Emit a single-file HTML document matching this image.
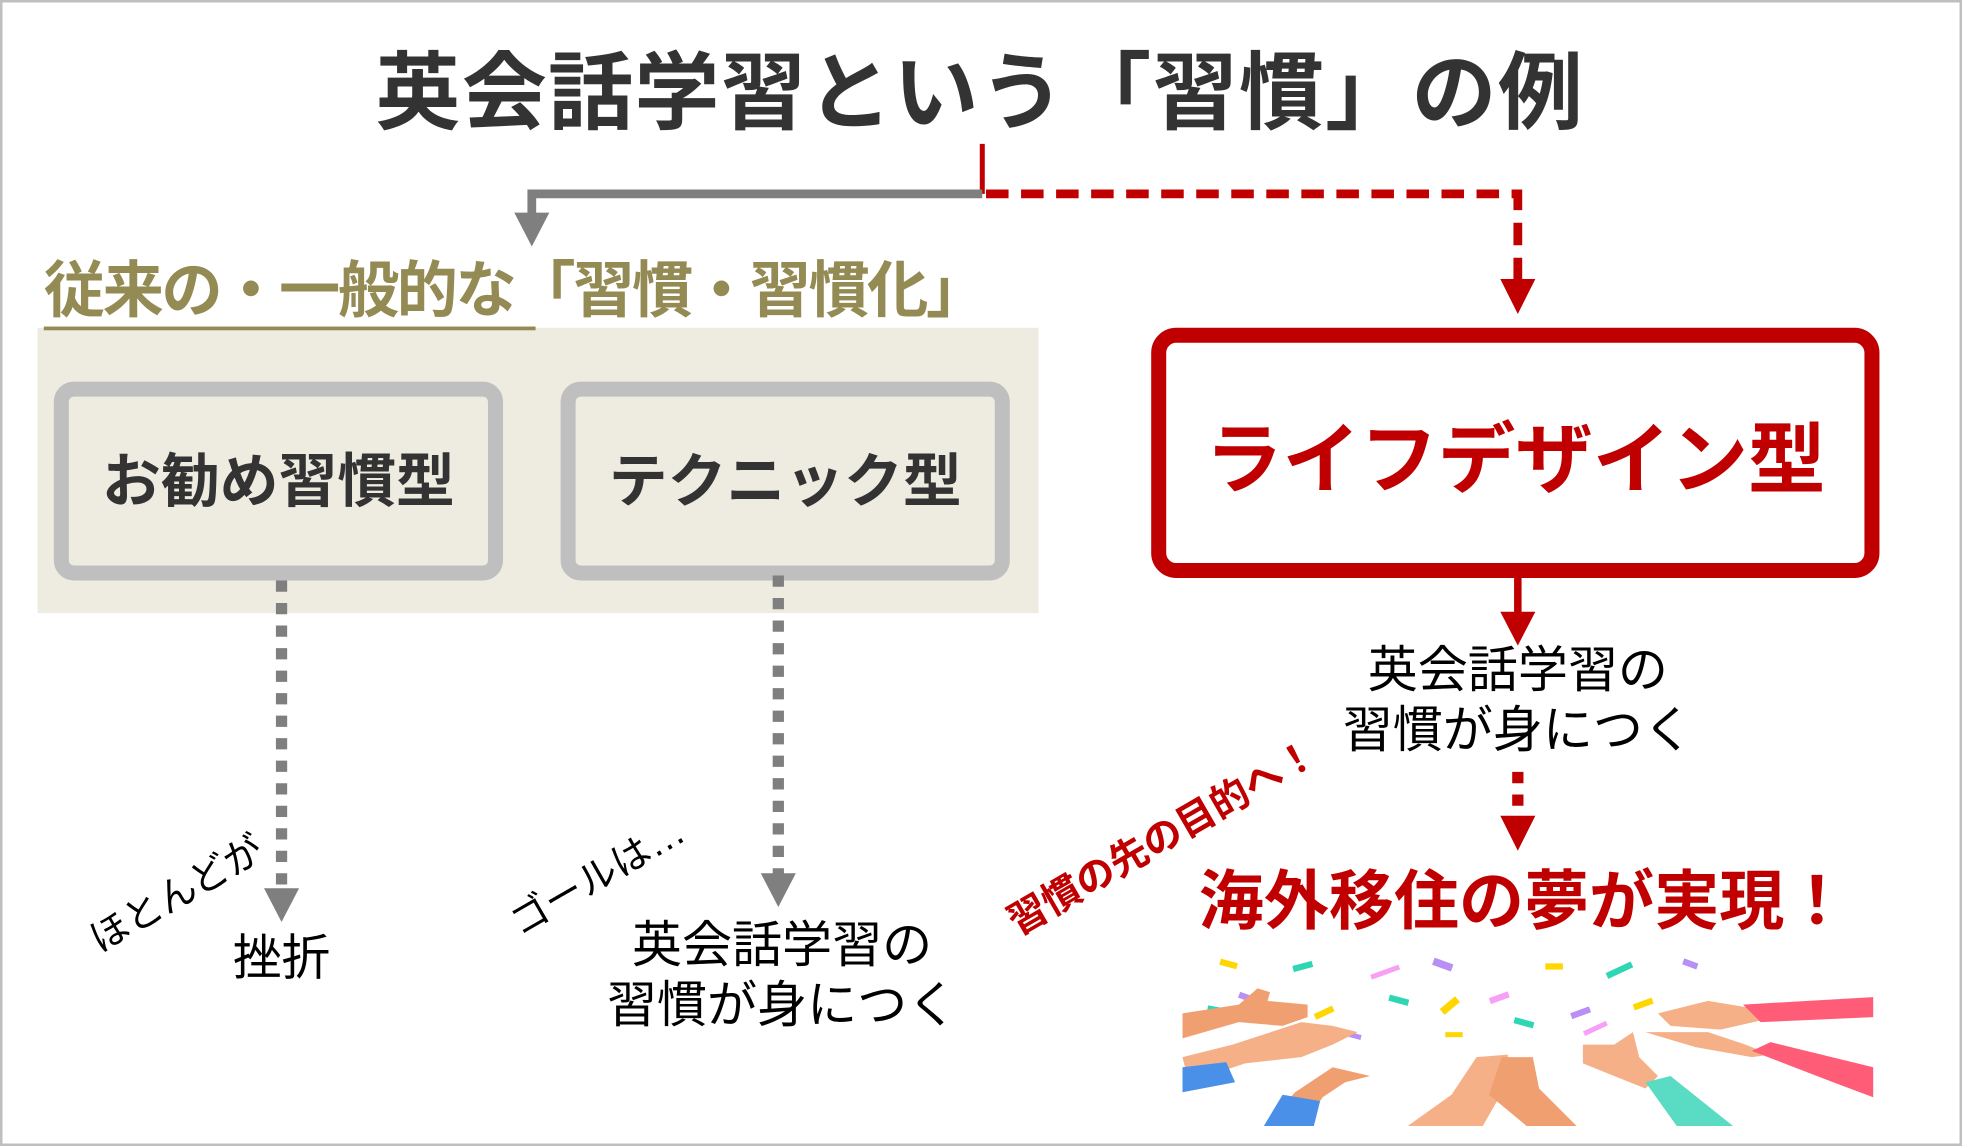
<!DOCTYPE html>
<html><head><meta charset="utf-8"><style>
html,body{margin:0;padding:0;background:#fff;}
body{width:1962px;height:1146px;overflow:hidden;position:relative;}
#w{position:absolute;left:0;top:0;width:1568px;height:916px;transform-origin:0 0;transform:scale(1.2513,1.2511);font-family:"Liberation Sans","Noto Sans CJK JP",sans-serif;}
.a{position:absolute;white-space:nowrap;}
.c{text-align:center;}
</style></head><body><div id="w">
<div class="a" style="left:0;top:0;width:1564px;height:912px;border:2px solid #bfbfbf;"></div>
<div class="a c" style="left:283px;top:30px;width:1000px;font-size:68px;font-weight:bold;color:#333;line-height:90px;letter-spacing:1px;">英会話学習という「習慣」の例</div>
<div class="a" style="left:30px;top:262px;width:800px;height:228px;background:#eeece1;"></div>
<div class="a" style="left:35px;top:200px;font-size:49px;font-weight:bold;color:#948a54;line-height:66px;letter-spacing:-2px;">従来の・一般的な「習慣・習慣化」</div>
<div class="a" style="left:35px;top:261px;width:393px;height:3px;background:#948a54;"></div>
<div class="a c" style="left:43px;top:305px;width:335px;height:135px;border:12px solid #bfbfbf;border-radius:16px;font-size:47px;font-weight:bold;color:#333;line-height:135px;">お勧め習慣型</div>
<div class="a c" style="left:448px;top:305px;width:335px;height:135px;border:12px solid #bfbfbf;border-radius:16px;font-size:47px;font-weight:bold;color:#333;line-height:135px;">テクニック型</div>
<div class="a c" style="left:920px;top:262px;width:558px;height:176px;border:12px solid #c00000;border-radius:20px;background:#fff;font-size:62px;font-weight:bold;color:#c00000;line-height:190px;">ライフデザイン型</div>
<svg class="a" style="left:0;top:0" width="1568" height="916">
<line x1="785" y1="115" x2="785" y2="155" stroke="#c00000" stroke-width="4"/>
<polyline points="785,155 425,155 425,172" fill="none" stroke="#7f7f7f" stroke-width="7"/>
<polygon points="411,170 439,170 425,197" fill="#7f7f7f"/>
<polyline points="788,155 1213,155 1213,225" fill="none" stroke="#c00000" stroke-width="7" stroke-dasharray="18,10"/>
<polygon points="1199,223 1227,223 1213,251" fill="#c00000"/>
<line x1="1213" y1="462" x2="1213" y2="492" stroke="#c00000" stroke-width="6"/>
<polygon points="1199,489 1227,489 1213,516" fill="#c00000"/>
<line x1="1213" y1="617" x2="1213" y2="652" stroke="#c00000" stroke-width="9" stroke-dasharray="9,9"/>
<polygon points="1199,652 1227,652 1213,680" fill="#c00000"/>
<line x1="225" y1="464" x2="225" y2="712" stroke="#7f7f7f" stroke-width="9" stroke-dasharray="9,9"/>
<polygon points="211,710 239,710 225,737" fill="#7f7f7f"/>
<line x1="622" y1="460" x2="622" y2="700" stroke="#7f7f7f" stroke-width="9" stroke-dasharray="9,9"/>
<polygon points="608,698 636,698 622,725" fill="#7f7f7f"/>
</svg>
<div class="a c" style="left:1013px;top:512px;width:400px;font-size:40px;color:#000;line-height:48px;">英会話学習の<br>習慣が身につく</div>
<div class="a c" style="left:425px;top:732px;width:400px;font-size:40px;color:#000;line-height:48px;">英会話学習の<br>習慣が身につく</div>
<div class="a" style="left:186px;top:743px;font-size:39px;color:#000;line-height:48px;">挫折</div>
<div class="a" style="font-size:31px;color:#000;transform:rotate(-30deg);transform-origin:0 100%;line-height:38px;top:732px;left:84px;">ほとんどが</div>
<div class="a" style="left:420px;top:718px;font-size:31px;color:#000;transform:rotate(-30deg);transform-origin:0 100%;line-height:38px;">ゴールは…</div>
<div class="a" style="left:818px;top:718px;font-size:31px;font-weight:bold;color:#c00000;transform:rotate(-30deg);transform-origin:0 100%;line-height:38px;">習慣の先の目的へ！</div>
<div class="a" style="left:958px;top:686px;font-size:52px;font-weight:bold;color:#c00000;line-height:70px;">海外移住の夢が実現！</div>
<svg class="a" style="left:945px;top:765px" width="555" height="140">
<g>
<rect x="30" y="3" width="14" height="5" fill="#ffd600" transform="rotate(15 37 5)"/>
<rect x="88" y="5" width="16" height="5" fill="#2fd6b4" transform="rotate(-15 96 7)"/>
<rect x="150" y="10" width="24" height="4" fill="#f7a0f5" transform="rotate(-20 162 12)"/>
<rect x="200" y="3" width="16" height="6" fill="#b890f5" transform="rotate(20 208 6)"/>
<rect x="290" y="5" width="14" height="5" fill="#ffd600"/>
<rect x="338" y="8" width="22" height="5" fill="#2fd6b4" transform="rotate(-25 349 10)"/>
<rect x="400" y="3" width="12" height="5" fill="#b890f5" transform="rotate(20 406 5)"/>
<rect x="45" y="30" width="14" height="5" fill="#b890f5" transform="rotate(20 52 32)"/>
<rect x="20" y="40" width="16" height="5" fill="#2fd6b4" transform="rotate(10 28 42)"/>
<rect x="105" y="42" width="16" height="5" fill="#ffd600" transform="rotate(-25 113 44)"/>
<rect x="165" y="32" width="16" height="5" fill="#2fd6b4" transform="rotate(15 173 34)"/>
<rect x="205" y="36" width="16" height="6" fill="#ffd600" transform="rotate(-40 213 38)"/>
<rect x="245" y="30" width="16" height="5" fill="#f7a0f5" transform="rotate(-20 253 32)"/>
<rect x="265" y="50" width="16" height="5" fill="#2fd6b4" transform="rotate(15 273 52)"/>
<rect x="310" y="42" width="16" height="5" fill="#b890f5" transform="rotate(-20 318 44)"/>
<rect x="320" y="55" width="20" height="4" fill="#f7a0f5" transform="rotate(-25 330 57)"/>
<rect x="360" y="35" width="16" height="5" fill="#ffd600" transform="rotate(-20 368 37)"/>
<rect x="125" y="60" width="18" height="4" fill="#b890f5" transform="rotate(15 134 62)"/>
<rect x="90" y="57" width="14" height="4" fill="#f7a0f5"/>
<rect x="210" y="60" width="14" height="4" fill="#ffd600"/>
</g>
<path d="M0,45 L45,38 L60,25 L70,28 L68,35 L100,38 L100,48 L80,55 L45,52 L0,65 Z" fill="#f0a070"/>
<path d="M0,80 L40,70 L95,52 L120,55 L140,60 L120,70 L95,80 L50,85 L5,100 Z" fill="#f5b088"/>
<path d="M0,88 L35,84 L42,100 L0,108 Z" fill="#4a90e8"/>
<path d="M90,108 L120,88 L150,95 L130,100 L112,112 L100,130 L70,130 Z" fill="#f0a070"/>
<path d="M80,110 L110,115 L105,135 L65,135 Z" fill="#4a90e8"/>
<path d="M180,135 L215,110 L235,80 L260,78 L260,100 L240,135 Z" fill="#f5b088"/>
<path d="M245,110 L255,80 L280,80 L285,105 L315,135 L275,135 Z" fill="#f0a070"/>
<path d="M320,70 L345,70 L360,60 L365,80 L380,95 L370,105 L345,95 L320,85 Z" fill="#f5b088"/>
<path d="M370,100 L390,95 L440,135 L395,135 Z" fill="#5adcc4"/>
<path d="M380,45 L420,35 L450,40 L465,50 L430,58 L390,55 Z" fill="#f5b088"/>
<path d="M370,60 L420,60 L450,70 L470,78 L455,80 L410,72 Z" fill="#f5b088"/>
<path d="M448,38 L552,32 L552,48 L462,52 Z" fill="#ff5c78"/>
<path d="M455,75 L470,68 L552,88 L552,112 L520,100 Z" fill="#ff5c78"/>
</svg>
</div></body></html>
